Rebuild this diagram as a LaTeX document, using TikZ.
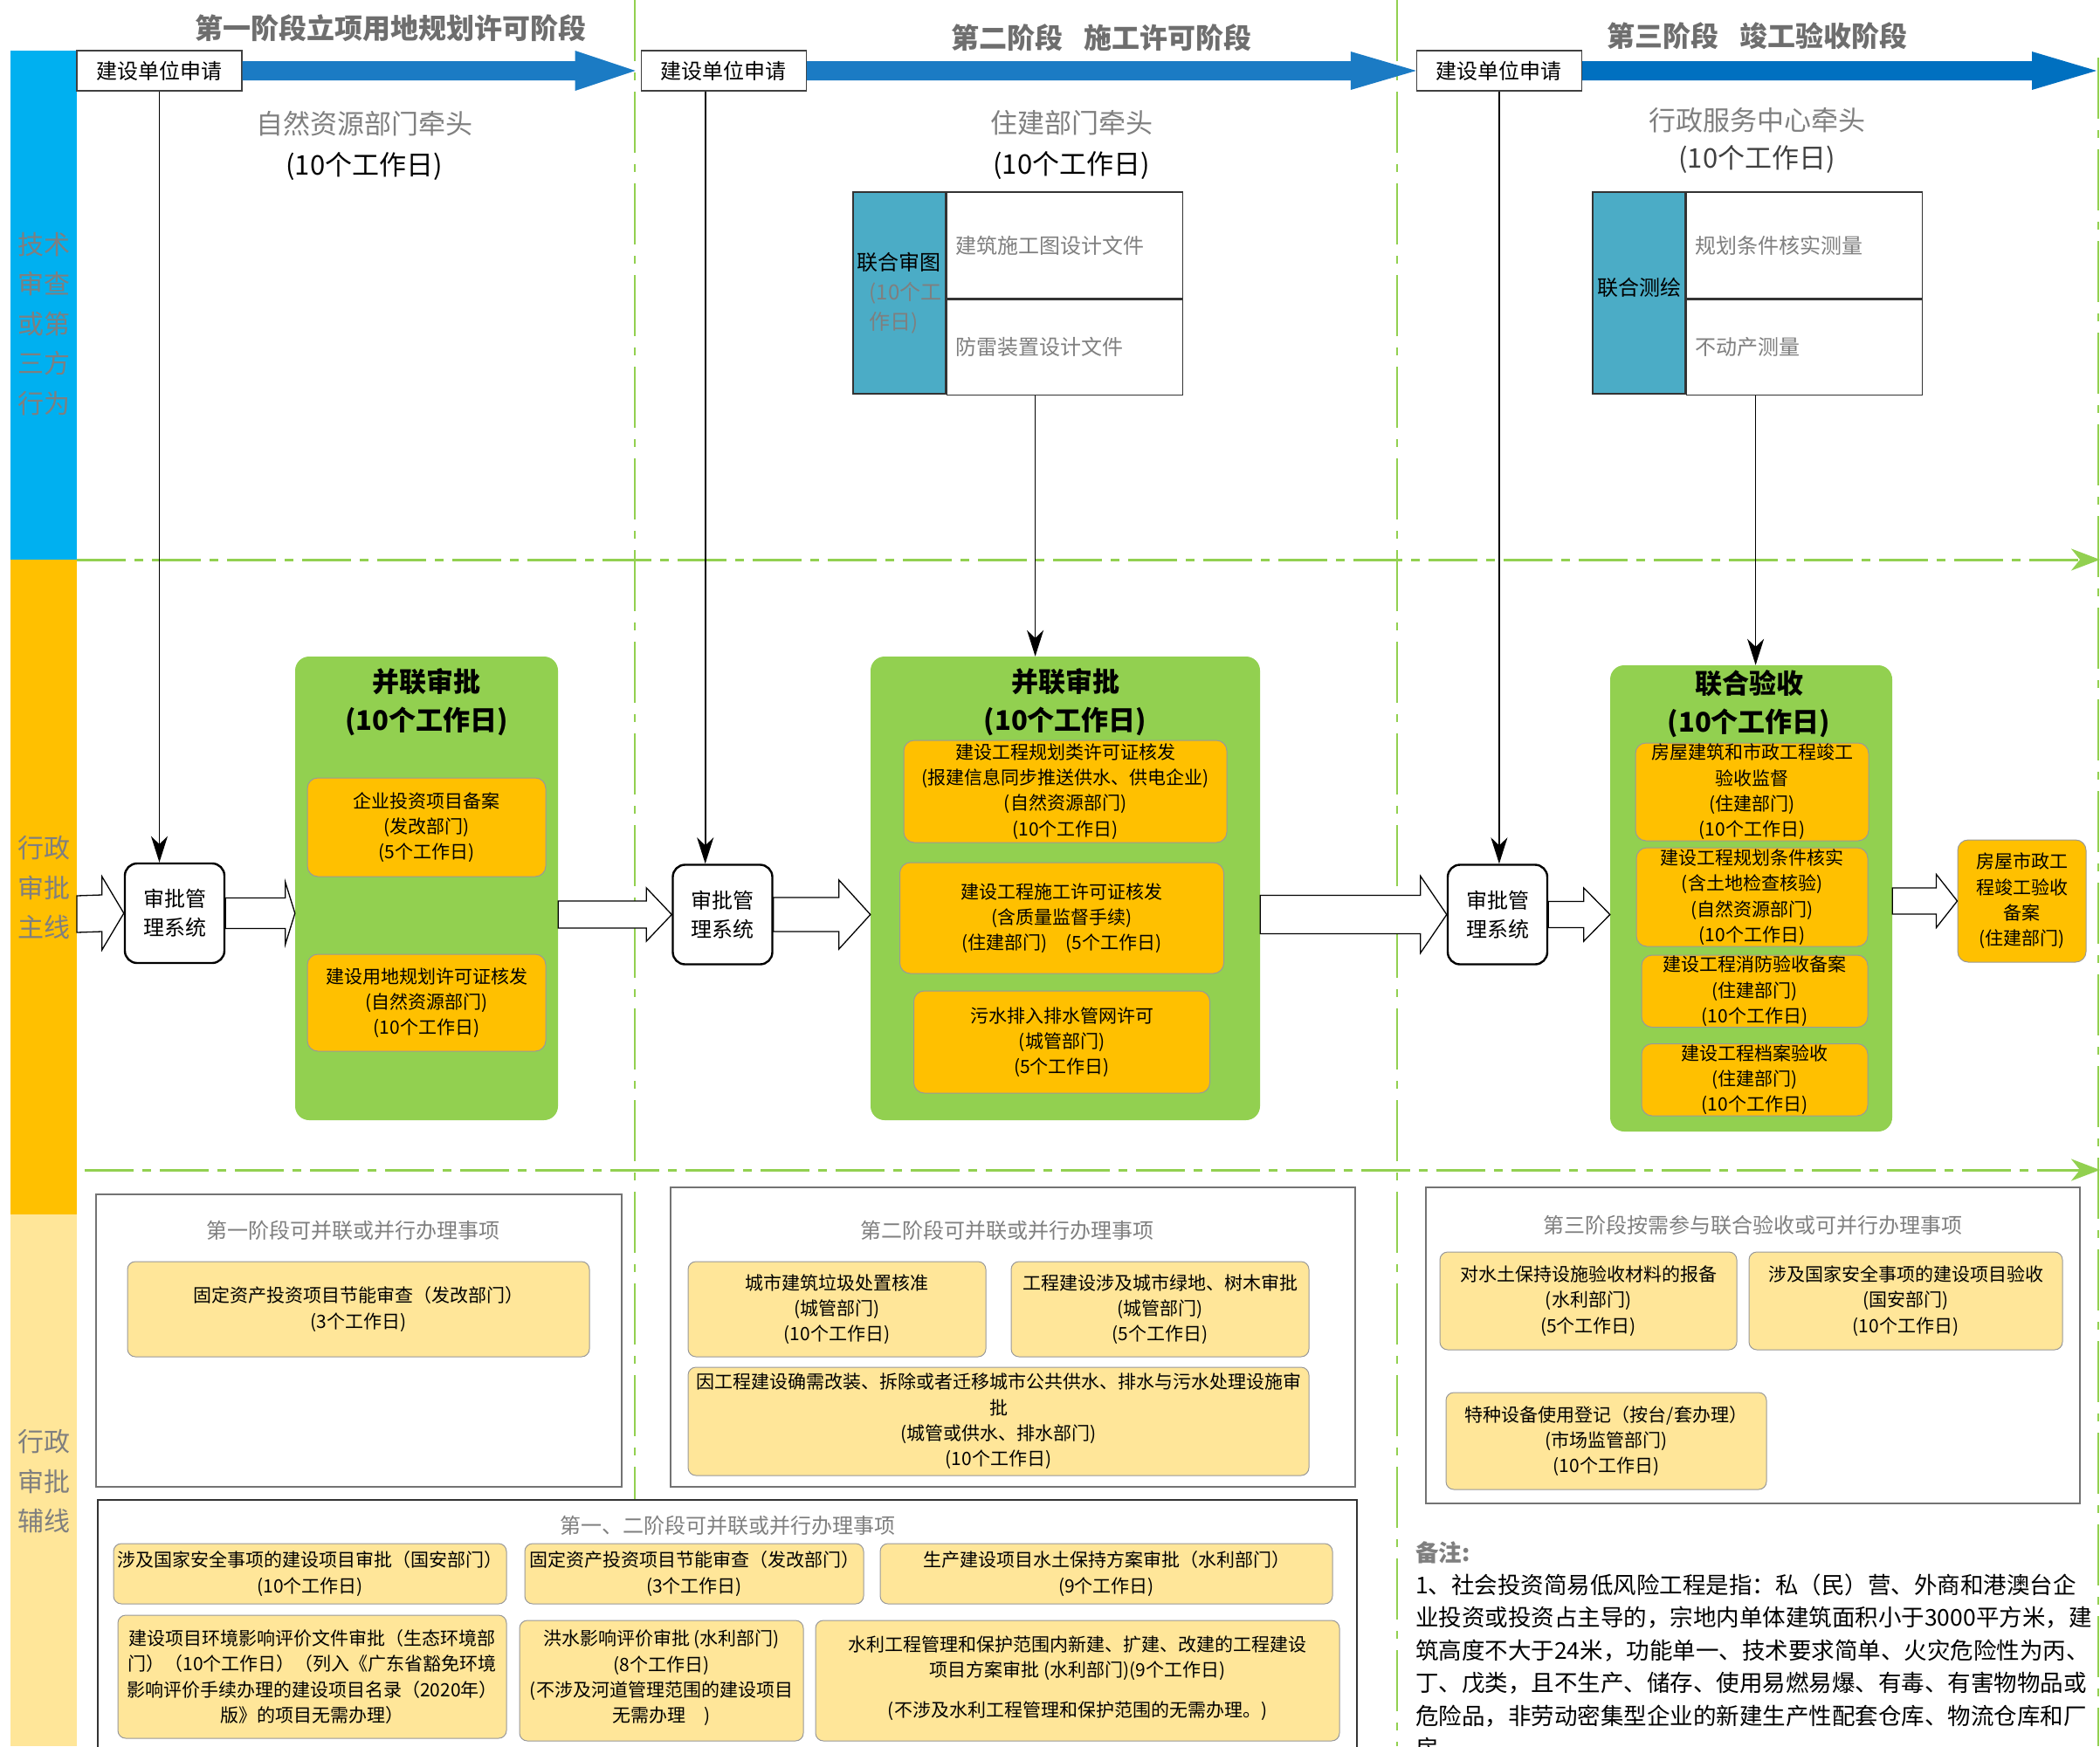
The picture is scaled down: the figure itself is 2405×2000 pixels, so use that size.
\documentclass[tikz,border=0pt]{standalone}
\usepackage{fontspec}
\setmainfont{Noto Sans CJK SC}
\usepackage{xcolor}
\usepackage{tikz}
\usetikzlibrary{positioning, arrows.meta, calc}

\definecolor{techblue}{HTML}{00B0F0}
\definecolor{mainorange}{HTML}{FFC000}
\definecolor{auxyellow}{HTML}{FFE699}
\definecolor{lanegreen}{HTML}{92D050}
\definecolor{jointteal}{HTML}{4BACC6}
\definecolor{flowblue}{HTML}{1B7BC4}
\definecolor{flowblueb}{HTML}{0070C0}
\definecolor{labelgray}{HTML}{7F7F7F}
\definecolor{titlegray}{HTML}{6E6E6E}

\newcommand{\fsz}[2]{\fontsize{#1}{#2}\selectfont}
% hollow / filled block arrow: [style]{from}{tip}{shaft half}{head half}{head length}
\newcommand{\blockarrow}[6][blockarrow]{%
  \draw[#1] ($(#2)+(0,#4)$) -- ($(#3)+(-#6,#4)$) -- ($(#3)+(-#6,#5)$) -- (#3)
    -- ($(#3)+(-#6,-#5)$) -- ($(#3)+(-#6,-#4)$) -- ($(#2)+(0,-#4)$) -- cycle;}

\begin{document}
\begin{tikzpicture}[
    x=1pt, y=-1pt,
    reqbox/.style={draw=black!75, line width=1.2pt, fill=white, minimum width=189pt, minimum height=46pt, inner sep=0pt, font=\fsz{24}{28}},
    stagetitle/.style={text=titlegray, font=\bfseries\fsz{32}{36}},
    leadtext/.style={align=center, font=\fsz{31}{47}},
    laneword/.style={align=center, text=labelgray, font=\fsz{30}{45.5}},
    sysbox/.style={draw, line width=2.4pt, rounded corners=14pt, fill=white, minimum width=114pt, minimum height=114pt, align=center, font=\fsz{24}{33}},
    parbox/.style={fill=lanegreen, rounded corners=16pt},
    grouptitle/.style={align=center, font=\bfseries\fsz{31}{44}},
    item/.style={draw=black!40, line width=1pt, fill=mainorange, rounded corners=12pt, align=center, inner sep=1pt, font=\fsz{21}{29.3}},
    auxitem/.style={item, fill=auxyellow, rounded corners=9pt},
    jointcell/.style={draw=black!80, line width=1.2pt, fill=jointteal, align=left, inner sep=0pt, font=\fsz{24}{34}},
    doccell/.style={draw=black!80, line width=1.2pt, fill=white, text=labelgray, text width=250pt, inner xsep=10pt, inner ysep=0pt, align=left, font=\fsz{24}{28}},
    groupbox/.style={draw=black!55, line width=1.6pt},
    grouplabel/.style={text=labelgray, font=\fsz{24}{28}},
    conn/.style={line width=1.6pt, -{Stealth[length=30pt, width=19pt, inset=9pt]}},
    laneline/.style={draw=lanegreen, line width=3pt, dash pattern=on 56pt off 10pt on 10pt off 10pt, -{Stealth[length=33pt, width=25pt, inset=10pt]}},
    stageline/.style={draw=lanegreen, line width=2.5pt, dash pattern=on 70pt off 13pt on 9pt off 13pt},
    blockarrow/.style={draw=black, line width=1.3pt, fill=white},
    flowarrow/.style={draw=none, fill=flowblue},
    noteblock/.style={align=left, inner sep=0pt, font=\fsz{26.5}{37.4}}
]
\useasboundingbox (0,0) rectangle (2405,2000);
\clip (0,0) rectangle (2405,2000);

% Lanes on the left
\fill[techblue] (12,58) rectangle (88,641);
\fill[mainorange] (12,641) rectangle (88,1391);
\fill[auxyellow] (12,1391) rectangle (88,2000);
\node[laneword] (techlane) at (50,371) {技术\\审查\\或第\\三方\\行为};
\node[laneword] (mainlane) at (50,1017) {行政\\审批\\主线};
\node[laneword] (auxlane) at (50,1697) {行政\\审批\\辅线};

% Stage and lane separators
\draw[stageline] (727,0) -- (727,1718);
\draw[stageline] (1600,0) -- (1600,2000);
\draw[stageline] (2403,66) -- (2403,2000);
\draw[laneline] (88,641) -- (2405,641);
\draw[laneline] (97,1340) -- (2405,1340);

% Stage titles
\node[stagetitle] (stage1) at (447,32) {第一阶段立项用地规划许可阶段};
\node[stagetitle] (stage2) at (1261,43) {第二阶段\hspace{0.75em}施工许可阶段};
\node[stagetitle] (stage3) at (2012,41) {第三阶段\hspace{0.75em}竣工验收阶段};

% Applications and the stage flow
\node[reqbox] (req1) at (182.5,81) {建设单位申请};
\node[reqbox, right=456pt of req1] (req2) {建设单位申请};
\node[reqbox, right=698pt of req2] (req3) {建设单位申请};
\coordinate (s1tip) at ([xshift=-6pt]req2.west);
\coordinate (s3tip) at (2401,81);
\blockarrow[flowarrow]{req1.east}{s1tip}{11}{23}{69}
\blockarrow[flowarrow]{req2.east}{req3.west}{11}{22}{75}
\blockarrow[flowarrow, fill=flowblueb]{req3.east}{s3tip}{11}{22}{74}

% Leading departments
\node[leadtext] (lead1) at (417,166.5) {{\color{labelgray}自然资源部门牵头}\\(10个工作日)};
\node[leadtext] (lead2) at (1227,166) {{\color{labelgray}住建部门牵头}\\(10个工作日)};
\node[leadtext, font=\fsz{31}{43}] (lead3) at (2012,160.5) {{\color{labelgray}行政服务中心牵头}\\{\color{black!75}(10个工作日)}};

% Joint drawing review
\node[jointcell, minimum width=106pt, minimum height=231pt] (jb2l) at (1030,335.5)
    {联合审图\\{\color{labelgray}\hspace*{14pt}(10个工}\\{\color{labelgray}\hspace*{14pt}作日)}};
\node[doccell, minimum height=122pt, anchor=north west] (jb2a) at (jb2l.north east) {建筑施工图设计文件};
\node[doccell, minimum height=109pt, below=0pt of jb2a] (jb2b) {防雷装置设计文件};

% Joint surveying
\node[jointcell, minimum width=106pt, minimum height=231pt] (jb3l) at (1877,335.5) {\raisebox{14pt}{联合测绘}};
\node[doccell, minimum height=122pt, anchor=north west] (jb3a) at (jb3l.north east) {规划条件核实测量};
\node[doccell, minimum height=109pt, below=0pt of jb3a] (jb3b) {不动产测量};

% Approval systems
\node[sysbox] (sys1) at (200,1046) {审批管\\理系统};
\node[sysbox] (sys2) at (827.5,1047.5) {审批管\\理系统};
\node[sysbox] (sys3) at (1715,1047.5) {审批管\\理系统};

% Stage 1 parallel approval
\node[parbox, minimum width=301pt, minimum height=531pt] (grn1) at (488.5,1017.5) {};
\node[grouptitle] (grn1t) at (488.5,804) {并联审批\\(10个工作日)};
\node[item, minimum width=273pt, minimum height=113pt] (o11) at (488.5,947.5) {企业投资项目备案\\(发改部门)\\(5个工作日)};
\node[item, minimum width=273pt, minimum height=111pt, below=88pt of o11] (o12) {建设用地规划许可证核发\\(自然资源部门)\\(10个工作日)};

% Stage 2 parallel approval
\node[parbox, minimum width=446pt, minimum height=531pt] (grn2) at (1220,1017.5) {};
\node[grouptitle] (grn2t) at (1220,804) {并联审批\\(10个工作日)};
\node[item, minimum width=370pt, minimum height=117pt] (o21) at (1220,906.5) {建设工程规划类许可证核发\\(报建信息同步推送供水、供电企业)\\(自然资源部门)\\(10个工作日)};
\node[item, minimum width=371pt, minimum height=127pt, below=22pt of o21, xshift=-4pt] (o22) {建设工程施工许可证核发\\(含质量监督手续)\\(住建部门)\quad(5个工作日)};
\node[item, minimum width=339pt, minimum height=117pt, below=19pt of o22] (o23) {污水排入排水管网许可\\(城管部门)\\(5个工作日)};

% Stage 3 joint acceptance
\node[parbox, minimum width=323pt, minimum height=534pt] (grn3) at (2005.5,1029) {};
\node[grouptitle] (grn3t) at (2003,806.5) {联合验收\\(10个工作日)};
\node[item, minimum width=267pt, minimum height=112pt] (o31) at (2006.5,907) {房屋建筑和市政工程竣工\\验收监督\\(住建部门)\\(10个工作日)};
\node[item, minimum width=265pt, minimum height=113pt, below=7pt of o31] (o32) {建设工程规划条件核实\\(含土地检查核验)\\(自然资源部门)\\(10个工作日)};
\node[item, minimum width=259pt, minimum height=80pt, below=9pt of o32, xshift=3pt] (o33) {建设工程消防验收备案\\(住建部门)\\(10个工作日)};
\node[item, minimum width=259pt, minimum height=80pt, below=18pt of o33] (o34) {建设工程档案验收\\(住建部门)\\(10个工作日)};
\node[item, minimum width=147pt, minimum height=140pt] (filing) at (2315.5,1032) {房屋市政工\\程竣工验收\\备案\\(住建部门)};

% Vertical connectors
\coordinate (req2drop) at ([xshift=-21pt]req2.south);
\coordinate (jb2drop) at ([xshift=102pt]jb2b.south west);
\coordinate (jb3drop) at ([xshift=80pt]jb3b.south west);
\draw[conn] (req1.south) -- (req1.south |- sys1.north);
\draw[conn] (req2drop) -- (req2drop |- sys2.north);
\draw[conn] (req3.south) -- (req3.south |- sys3.north);
\draw[conn] (jb2drop) -- (jb2drop |- grn2.north);
\draw[conn] (jb3drop) -- (jb3drop |- grn3.north);

% Hollow block arrows along the main line
\coordinate (mainin) at (88,1047);
\coordinate (g1in) at (grn1.west |- sys1.east);
\coordinate (g1out) at (grn1.east |- sys2.west);
\coordinate (g2in) at (grn2.west |- sys2.east);
\coordinate (g2out) at (grn2.east |- sys3.west);
\coordinate (g3in) at (grn3.west |- sys3.east);
\coordinate (g3out) at (grn3.east |- filing.west);
\blockarrow{mainin}{sys1.west}{21}{42}{25}
\blockarrow{sys1.east}{g1in}{17.5}{35.5}{11}
\blockarrow{g1out}{sys2.west}{15.5}{30.5}{29}
\blockarrow{sys2.east}{g2in}{19.5}{39.5}{36}
\blockarrow{g2out}{sys3.west}{22}{44}{30}
\blockarrow{sys3.east}{g3in}{15}{30.5}{30}
\blockarrow{g3out}{filing.west}{15}{30.5}{24}

% Stage 1 side matters
\node[groupbox, minimum width=602pt, minimum height=335pt] (grp1) at (411,1535.5) {};
\node[grouplabel, below=27pt of grp1.north, xshift=-7pt] (grp1t) {第一阶段可并联或并行办理事项};
\node[auxitem, minimum width=529pt, minimum height=109pt] (a11) at (410.5,1499.5) {固定资产投资项目节能审查（发改部门）\\(3个工作日)};

% Stage 2 side matters
\node[groupbox, minimum width=784pt, minimum height=343pt] (grp2) at (1160,1531.5) {};
\node[grouplabel, below=35pt of grp2.north, xshift=-7pt] (grp2t) {第二阶段可并联或并行办理事项};
\node[auxitem, minimum width=341pt, minimum height=109pt] (a21) at (958.5,1499.5) {城市建筑垃圾处置核准\\(城管部门)\\(10个工作日)};
\node[auxitem, minimum width=341pt, minimum height=109pt] (a22) at (1328.5,1499.5) {工程建设涉及城市绿地、树木审批\\(城管部门)\\(5个工作日)};
\node[auxitem, minimum width=711pt, minimum height=124pt] (a23) at (1143.5,1628) {因工程建设确需改装、拆除或者迁移城市公共供水、排水与污水处理设施审\\批\\(城管或供水、排水部门)\\(10个工作日)};

% Stage 3 side matters
\node[groupbox, minimum width=749pt, minimum height=362pt] (grp3) at (2007.5,1541) {};
\node[grouplabel, below=29pt of grp3.north] (grp3t) {第三阶段按需参与联合验收或可并行办理事项};
\node[auxitem, minimum width=340pt, minimum height=112pt] (a31) at (1819,1490) {对水土保持设施验收材料的报备\\(水利部门)\\(5个工作日)};
\node[auxitem, minimum width=359pt, minimum height=112pt] (a32) at (2182.5,1490) {涉及国家安全事项的建设项目验收\\(国安部门)\\(10个工作日)};
\node[auxitem, minimum width=367pt, minimum height=111pt] (a33) at (1839.5,1650.5) {特种设备使用登记（按台/套办理）\\(市场监管部门)\\(10个工作日)};

% Stage 1 and 2 side matters
\node[groupbox, draw=black!80, minimum width=1442pt, minimum height=292pt] (grp4) at (833,1864) {};
\node[grouplabel, below=15pt of grp4.north] (grp4t) {第一、二阶段可并联或并行办理事项};
\node[auxitem, minimum width=450pt, minimum height=69pt] (a41) at (355,1802.5) {涉及国家安全事项的建设项目审批（国安部门）\\(10个工作日)};
\node[auxitem, minimum width=388pt, minimum height=69pt] (a42) at (795,1802.5) {固定资产投资项目节能审查（发改部门）\\(3个工作日)};
\node[auxitem, minimum width=518pt, minimum height=69pt] (a43) at (1267,1802.5) {生产建设项目水土保持方案审批（水利部门）\\(9个工作日)};
\node[auxitem, minimum width=445pt, minimum height=141pt] (a44) at (357.5,1920.5) {建设项目环境影响评价文件审批（生态环境部\\门）（10个工作日）（列入《广东省豁免环境\\影响评价手续办理的建设项目名录（2020年）\\版》的项目无需办理）};
\node[auxitem, minimum width=325pt, minimum height=138pt] (a45) at (757.5,1925) {\raisebox{10pt}{洪水影响评价审批 (水利部门)}\\\raisebox{10pt}{(8个工作日)}\\\raisebox{10pt}{(不涉及河道管理范围的建设项目}\\\raisebox{10pt}{无需办理\quad)}};
\node[auxitem, minimum width=600pt, minimum height=138pt] (a46) at (1234,1925) {\raisebox{10pt}{水利工程管理和保护范围内新建、扩建、改建的工程建设}\\\raisebox{10pt}{项目方案审批 (水利部门)(9个工作日)}\\[17pt]\raisebox{10pt}{(不涉及水利工程管理和保护范围的无需办理。)}};

% Notes
\node[noteblock, anchor=north west] (notes) at (1621,1765) {{\color{labelgray}\bfseries 备注:}\\1、社会投资简易低风险工程是指：私（民）营、外商和港澳台企\\业投资或投资占主导的，宗地内单体建筑面积小于3000平方米，建\\筑高度不大于24米，功能单一、技术要求简单、火灾危险性为丙、\\丁、戊类，且不生产、储存、使用易燃易爆、有毒、有害物物品或\\危险品，非劳动密集型企业的新建生产性配套仓库、物流仓库和厂\\房。};

\end{tikzpicture}
\end{document}
